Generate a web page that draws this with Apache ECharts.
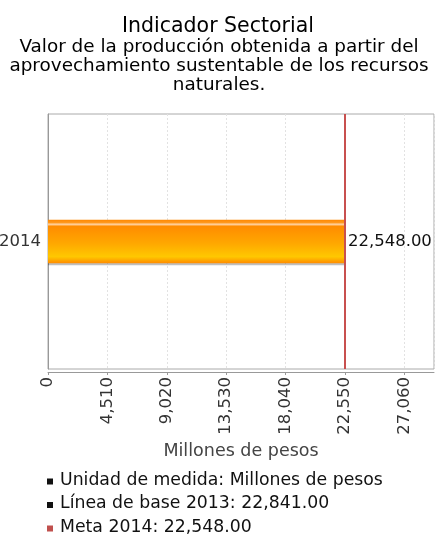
<!DOCTYPE html>
<html>
<head>
<meta charset="utf-8">
<script src="https://cdn.jsdelivr.net/npm/echarts@6/dist/echarts.min.js"></script>
<style>
html,body{margin:0;padding:0;background:#fff;}
#c{width:436px;height:540px;}
</style>
</head>
<body>
<div id="c"></div>
<script>
const titleText = 'Indicador Sectorial';
const subtitleText = 'Valor de la producción obtenida a partir del\naprovechamiento sustentable de los recursos\nnaturales.';
const categories = ['2014'];
const values = [22548];
const metaValue = 22548;
const axisName = 'Millones de pesos';
const axisInterval = 4510;
const axisMax = 29315;
const legendTexts = ['Unidad de medida: Millones de pesos', 'Línea de base 2013: 22,841.00', 'Meta 2014: 22,548.00'];
const legendColors = ['#111111', '#111111', '#c0504d'];

const FONT = 'DejaVu Sans';
const fmt = v => v.toLocaleString('en-US', {minimumFractionDigits: 2, maximumFractionDigits: 2});
const fmtTick = v => v.toLocaleString('en-US', {maximumFractionDigits: 0});

const chart = echarts.init(document.getElementById('c'), null, {renderer: 'canvas'});

const graphics = [];
graphics.push({
  type: 'text', x: 219, y: 38,
  style: {text: subtitleText, font: '18.4px "' + FONT + '"', fill: '#000', align: 'center', textAlign: 'center', lineHeight: 19}
});
legendTexts.forEach((t, i) => {
  const cy = 481.5 + i * 23.5;
  graphics.push({type: 'rect', x: 47, y: cy - 3, shape: {x: 0, y: 0, width: 6, height: 6}, style: {fill: legendColors[i]}});
  graphics.push({type: 'text', x: 60, y: cy - 1, style: {text: t, font: '17.3px "' + FONT + '"', fill: '#111', verticalAlign: 'middle', textVerticalAlign: 'middle'}});
});

chart.setOption({
  animation: false,
  textStyle: {fontFamily: FONT},
  title: {
    text: titleText,
    left: 'center',
    top: 11,
    textStyle: {fontFamily: FONT, fontSize: 20.5, fontWeight: 'normal', color: '#000'}
  },
  grid: {left: 48, right: 2, top: 114, bottom: 171, show: true, borderColor: '#aaa', borderWidth: 1, containLabel: false, outerBoundsMode: 'none'},
  xAxis: {
    type: 'value',
    min: 0,
    max: axisMax,
    interval: axisInterval,
    offset: 3,
    name: axisName,
    nameLocation: 'middle',
    nameGap: 70,
    nameTextStyle: {fontFamily: FONT, fontSize: 17.5, color: '#444'},
    axisLine: {show: true, lineStyle: {color: '#999'}},
    axisTick: {show: true, length: 3, lineStyle: {color: '#999'}},
    axisLabel: {rotate: 90, fontFamily: FONT, fontSize: 16.5, color: '#333', margin: 5, showMaxLabel: false, formatter: fmtTick},
    splitLine: {show: true, lineStyle: {color: '#e2e2e2', type: [2, 2]}}
  },
  yAxis: {
    type: 'category',
    data: categories,
    offset: 3,
    axisLine: {show: true, lineStyle: {color: '#999'}},
    axisTick: {show: false},
    axisLabel: {fontFamily: FONT, fontSize: 16.5, color: '#333', margin: 4},
    splitLine: {show: false}
  },
  series: [{
    type: 'bar',
    data: values,
    barWidth: '17%',
    itemStyle: {
      color: new echarts.graphic.LinearGradient(0, 0, 0, 1, [
        {offset: 0, color: '#ff8800'},
        {offset: 0.07, color: '#ff9a20'},
        {offset: 0.1, color: '#ffd8b0'},
        {offset: 0.15, color: '#ff8c00'},
        {offset: 0.55, color: '#ffa800'},
        {offset: 0.85, color: '#ffc800'},
        {offset: 0.95, color: '#ffa000'},
        {offset: 1, color: '#ff8c00'}
      ]),
      shadowColor: 'rgba(0,0,0,0.25)',
      shadowOffsetY: 2,
      shadowBlur: 0
    },
    label: {show: true, position: 'right', distance: 3, fontFamily: FONT, fontSize: 16.5, color: '#111', formatter: p => fmt(p.value)},
    markLine: {
      silent: true,
      symbol: 'none',
      label: {show: false},
      lineStyle: {color: '#c8504f', width: 2, type: 'solid'},
      data: [{xAxis: metaValue}]
    }
  }],
  graphic: graphics
});
</script>
</body>
</html>
